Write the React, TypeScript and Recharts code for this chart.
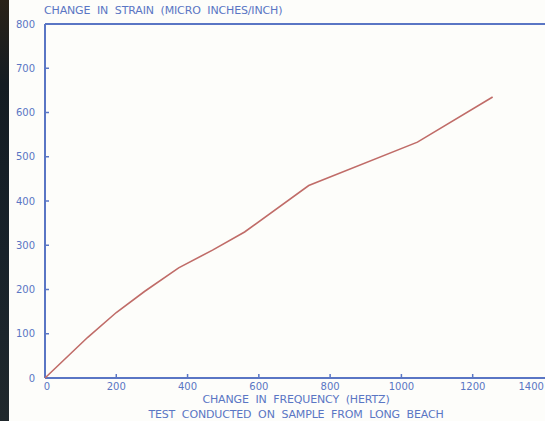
import { LineChart, Line, XAxis, YAxis, ReferenceLine } from "recharts";

const frequency = [0, 120, 200, 280, 375, 470, 560, 740, 1045, 1256];
const strain = [0, 92, 148, 196, 249, 289, 330, 435, 533, 635];
const xTicks = [0, 200, 400, 600, 800, 1000, 1200, 1400];
const yTicks = [0, 100, 200, 300, 400, 500, 600, 700, 800];

const data = frequency.map((f, i) => ({ f, s: strain[i] }));

const blue = "#5a76c4";
const font = "'DejaVu Sans', sans-serif";

function XTick(props: any) {
  const { x, y, payload, index } = props;
  const last = index === xTicks.length - 1;
  return (
    <g>
      {payload.value !== 0 && !last && (
        <line x1={x} x2={x} y1={y} y2={y - 4} stroke={blue} strokeWidth={1.5} />
      )}
      <text
        x={last ? x : x + (payload.value === 0 ? 2 : 0)}
        y={y + 12}
        textAnchor={last ? "end" : "middle"}
        fill={blue}
        fontSize={10}
        fontFamily={font}
      >
        {payload.value}
      </text>
    </g>
  );
}

function YTick(props: any) {
  const { x, y, payload } = props;
  return (
    <g>
      {payload.value !== 0 && payload.value !== 800 && (
        <line x1={x} x2={x + 4} y1={y} y2={y} stroke={blue} strokeWidth={1.5} />
      )}
      <text x={x - 10} y={y} dy="0.35em" textAnchor="end" fill={blue} fontSize={10} fontFamily={font}>
        {payload.value}
      </text>
    </g>
  );
}

const textStyle = {
  position: "absolute" as const,
  color: blue,
  fontFamily: font,
  fontSize: 11,
  whiteSpace: "pre" as const,
  lineHeight: "12px",
  letterSpacing: "-0.15px",
};

export default function App() {
  return (
    <div
      style={{
        position: "absolute",
        left: 0,
        top: 0,
        width: 545,
        height: 421,
        background: "#fdfdfa",
        overflow: "hidden",
      }}
    >
      <div
        style={{
          position: "absolute",
          left: 0,
          top: 0,
          width: 9,
          height: 421,
          background: "linear-gradient(180deg, #2a2218 0%, #141c22 20%, #18222a 60%, #20282c 100%)",
        }}
      />
      {/* plot runs past the right edge, like the cropped photo */}
      <LineChart width={560} height={421} data={data} margin={{ top: 24, right: 0, bottom: 23, left: 44 }}>
        <XAxis
          dataKey="f"
          type="number"
          domain={[0, 1445]}
          ticks={xTicks}
          height={20}
          tickSize={0}
          tickMargin={0}
          tick={XTick}
          axisLine={false}
          tickLine={false}
          interval={0}
        />
        <YAxis
          type="number"
          domain={[0, 800]}
          ticks={yTicks}
          width={1}
          tickSize={0}
          tickMargin={0}
          tick={YTick}
          axisLine={false}
          tickLine={false}
          interval={0}
        />
        <ReferenceLine y={800} stroke={blue} strokeWidth={2} />
        <ReferenceLine y={0} stroke={blue} strokeWidth={2} />
        <ReferenceLine x={0} stroke={blue} strokeWidth={2} />
        <Line
          dataKey="s"
          type="linear"
          stroke="#c06c68"
          strokeWidth={1.6}
          dot={false}
          isAnimationActive={false}
        />
      </LineChart>
      <div style={{ ...textStyle, left: 44, top: 5 }}>
        CHANGE  IN  STRAIN  (MICRO  INCHES/INCH)
      </div>
      <div style={{ ...textStyle, left: 0, width: 592, textAlign: "center", top: 394 }}>
        CHANGE  IN  FREQUENCY  (HERTZ)
      </div>
      <div style={{ ...textStyle, left: 0, width: 592, textAlign: "center", top: 409 }}>
        TEST  CONDUCTED  ON  SAMPLE  FROM  LONG  BEACH
      </div>
    </div>
  );
}
